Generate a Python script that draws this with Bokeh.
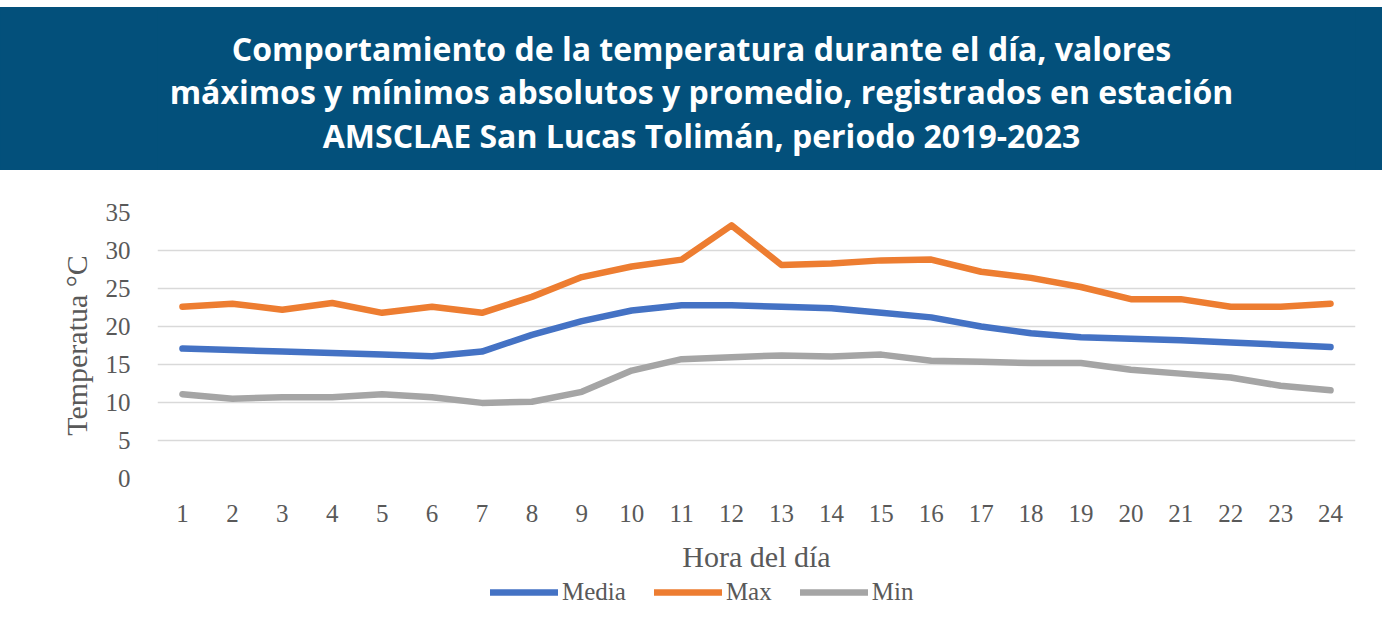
from bokeh.plotting import figure
from bokeh.models import Label, Legend, LegendItem, FixedTicker, Range1d
from bokeh.layouts import column
from bokeh.embed import file_html
from bokeh.resources import INLINE

hours = list(range(1, 25))
media = [17.1, 16.9, 16.7, 16.5, 16.3, 16.1, 16.7, 18.9, 20.7, 22.1, 22.8, 22.8,
         22.6, 22.4, 21.8, 21.2, 20.0, 19.1, 18.6, 18.4, 18.2, 17.9, 17.6, 17.3]
maxv = [22.6, 23.0, 22.2, 23.1, 21.8, 22.6, 21.8, 23.9, 26.5, 27.9, 28.8, 33.3,
        28.1, 28.3, 28.7, 28.8, 27.2, 26.4, 25.2, 23.6, 23.6, 22.6, 22.6, 23.0]
minv = [11.1, 10.5, 10.7, 10.7, 11.1, 10.7, 9.95, 10.1, 11.4, 14.2, 15.7, 15.95,
        16.2, 16.05, 16.3, 15.5, 15.35, 15.2, 15.2, 14.3, 13.8, 13.3, 12.2, 11.6]
y_ticks = [0, 5, 10, 15, 20, 25, 30, 35]
series_names = ["Media", "Max", "Min"]
series_colors = ["#4472C4", "#ED7D31", "#A5A5A5"]
series_values = [media, maxv, minv]

title_lines = [
    "Comportamiento de la temperatura durante el día, valores",
    "máximos y mínimos absolutos y promedio, registrados en estación",
    "AMSCLAE San Lucas Tolimán, periodo 2019-2023",
]

BAND = "#03507B"
TXT = "#595959"
SERIF = "Liberation Serif"
TITLE_FONT = "Open Sans"

# ---------- title band ----------
pt = figure(width=1382, height=163, x_range=(0, 1), y_range=(0, 1),
            toolbar_location=None, output_backend="svg",
            min_border_top=0, min_border_bottom=0,
            min_border_left=157, min_border_right=27,
            margin=(7, 0, 0, 0), styles={"background-color": BAND})
pt.axis.visible = False
pt.grid.visible = False
pt.outline_line_color = None
pt.background_fill_color = BAND
pt.border_fill_color = BAND
for line, yb in zip(title_lines, [122, 79, 35]):
    pt.add_layout(Label(x=544, y=yb, x_units="screen", y_units="screen",
                        text=line, text_align="center", text_baseline="alphabetic",
                        text_color="white", text_font=TITLE_FONT,
                        text_font_size="32px", text_font_style="bold"))

# ---------- chart ----------
p = figure(width=1382, height=408, toolbar_location=None, output_backend="svg",
           x_range=Range1d(0.5, 24.5), y_range=Range1d(0, 35),
           min_border_left=157, min_border_right=27, min_border_top=42,
           min_border_bottom=100)
p.outline_line_color = None
p.xgrid.visible = False
p.ygrid.grid_line_color = "#D9D9D9"
p.ygrid.grid_line_width = 1.5
p.yaxis.ticker = FixedTicker(ticks=y_ticks)
p.xaxis.ticker = FixedTicker(ticks=hours)

for ax in (p.xaxis, p.yaxis):
    ax.axis_line_color = None
    ax.major_tick_line_color = None
    ax.minor_tick_line_color = None
    ax.major_label_text_font = SERIF
    ax.major_label_text_font_size = "25px"
    ax.major_label_text_color = TXT
    ax.axis_label_text_font = SERIF
    ax.axis_label_text_font_size = "30px"
    ax.axis_label_text_font_style = "normal"
    ax.axis_label_text_color = TXT

p.xaxis.axis_label = "Hora del día"
p.yaxis.axis_label = "Temperatua °C"
p.xaxis.major_label_standoff = 20
p.xaxis.axis_label_standoff = 15
p.yaxis.major_label_standoff = 21
p.yaxis.axis_label_standoff = 10

for col, ys in zip(series_colors, series_values):
    p.line(hours, ys, line_color=col, line_width=6.5,
           line_cap="round", line_join="round")

# ---------- legend strip (series drawn outside its visible range) ----------
pl = figure(width=1382, height=56, toolbar_location=None, output_backend="svg",
            x_range=(100, 101), y_range=(100, 101),
            min_border_top=0, min_border_bottom=0,
            min_border_left=157, min_border_right=27)
pl.axis.visible = False
pl.grid.visible = False
pl.outline_line_color = None
items = []
for name, col, ys in zip(series_names, series_colors, series_values):
    r = pl.line(hours, ys, line_color=col, line_width=6.5, line_cap="round")
    items.append(LegendItem(label=name, renderers=[r]))
legend = Legend(items=items, orientation="horizontal", location=(333, 28),
                glyph_width=68, glyph_height=20, label_standoff=4, spacing=28,
                padding=0, margin=0, border_line_color=None,
                background_fill_alpha=0,
                label_text_font=SERIF, label_text_font_size="25px",
                label_text_color=TXT)
pl.add_layout(legend, "center")

layout = column(pt, p, pl, spacing=0)
open("out.html", "w").write(file_html(layout, INLINE))
